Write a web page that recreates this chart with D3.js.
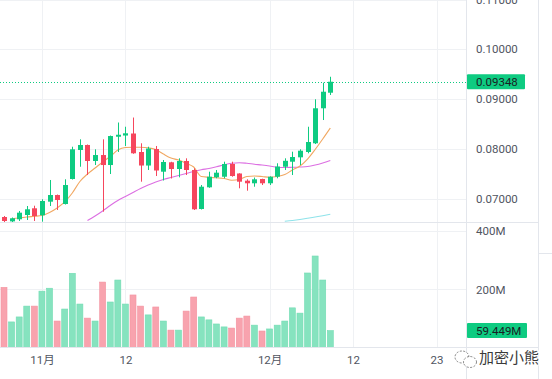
<!DOCTYPE html>
<html><head><meta charset="utf-8">
<script src="https://cdn.jsdelivr.net/npm/d3@7"></script>
<style>html,body{margin:0;padding:0;background:#fff;overflow:hidden}svg{display:block}</style>
</head><body><svg id="c" width="552" height="379"></svg>
<script>
const dates = ["2023-10-27","2023-10-28","2023-10-29","2023-10-30","2023-10-31","2023-11-01","2023-11-02","2023-11-03","2023-11-04","2023-11-05","2023-11-06","2023-11-07","2023-11-08","2023-11-09","2023-11-10","2023-11-11","2023-11-12","2023-11-13","2023-11-14","2023-11-15","2023-11-16","2023-11-17","2023-11-18","2023-11-19","2023-11-20","2023-11-21","2023-11-22","2023-11-23","2023-11-24","2023-11-25","2023-11-26","2023-11-27","2023-11-28","2023-11-29","2023-11-30","2023-12-01","2023-12-02","2023-12-03","2023-12-04","2023-12-05","2023-12-06","2023-12-07","2023-12-08","2023-12-09"];
const open  = [0.06628,0.06540,0.06582,0.06668,0.06803,0.06662,0.06936,0.07070,0.06889,0.07392,0.07975,0.08076,0.07754,0.07874,0.07673,0.08242,0.08266,0.08307,0.07935,0.07663,0.07995,0.07539,0.07728,0.07593,0.07754,0.07573,0.06789,0.07225,0.07426,0.07438,0.07694,0.07503,0.07358,0.07306,0.07392,0.07306,0.07438,0.07639,0.07740,0.07828,0.07935,0.08110,0.08814,0.09127];
const high  = [0.06648,0.06618,0.06749,0.06849,0.06855,0.06984,0.07372,0.07080,0.07386,0.08041,0.08190,0.08086,0.07989,0.08190,0.08266,0.08528,0.08443,0.08628,0.08110,0.08041,0.08056,0.07774,0.07738,0.07808,0.07808,0.07607,0.07271,0.07539,0.07573,0.07740,0.07740,0.07507,0.07386,0.07422,0.07398,0.07446,0.07708,0.07808,0.07941,0.07989,0.08443,0.08995,0.09328,0.09448];
const low   = [0.06527,0.06518,0.06548,0.06568,0.06548,0.06534,0.06849,0.06769,0.06879,0.07382,0.07639,0.07472,0.07673,0.06735,0.07492,0.07935,0.08055,0.07899,0.07338,0.07573,0.07452,0.07362,0.07402,0.07426,0.07472,0.06769,0.06779,0.07215,0.07406,0.07406,0.07438,0.07205,0.07157,0.07237,0.07271,0.07271,0.07406,0.07573,0.07472,0.07673,0.07909,0.08095,0.08578,0.09081];
const close = [0.06548,0.06602,0.06715,0.06783,0.06648,0.06950,0.07070,0.06970,0.07271,0.07989,0.08076,0.07754,0.07874,0.07673,0.08256,0.08282,0.08311,0.07909,0.07663,0.08005,0.07563,0.07734,0.07593,0.07754,0.07573,0.06783,0.07237,0.07438,0.07519,0.07694,0.07452,0.07338,0.07306,0.07386,0.07306,0.07438,0.07643,0.07758,0.07834,0.07961,0.08136,0.08814,0.09147,0.09348];
const volumeM = [207,89,106,143,143,194,204,92,133,255,150,102,92,225,157,232,150,181,143,113,140,92,61,61,126,174,106,96,82,72,68,102,109,78,58,65,78,92,137,119,256,314,232,59.449];
const maShort = [null,0.06594,0.06608,0.06628,0.06642,0.06658,0.06719,0.06809,0.06930,0.07111,0.07342,0.07492,0.07613,0.07734,0.07844,0.07975,0.08025,0.08029,0.08029,0.08019,0.07985,0.07894,0.07814,0.07774,0.07708,0.07633,0.07442,0.07426,0.07416,0.07402,0.07366,0.07382,0.07442,0.07452,0.07442,0.07426,0.07442,0.07482,0.07573,0.07653,0.07794,0.07985,0.08196,0.08417];
const maMid = [null,null,null,null,null,null,null,null,null,null,null,0.06558,0.06648,0.06749,0.06859,0.06960,0.07040,0.07121,0.07201,0.07271,0.07332,0.07382,0.07422,0.07462,0.07503,0.07543,0.07577,0.07603,0.07637,0.07677,0.07708,0.07720,0.07708,0.07689,0.07673,0.07653,0.07627,0.07623,0.07627,0.07633,0.07643,0.07673,0.07714,0.07764];
const maLong = [null,null,null,null,null,null,null,null,null,null,null,null,null,null,null,null,null,null,null,null,null,null,null,null,null,null,null,null,null,null,null,null,null,null,null,null,null,0.06542,0.06558,0.06578,0.06602,0.06628,0.06654,0.06682];
const priceTicks = [0.07,0.08,0.09,0.10,0.11];
const volumeTicks = [200,400];
const timeTicks = ["2023-11-01","2023-11-12","2023-12-01","2023-12-12","2023-12-23"];
const timeTickLabels = ["11月","12","12月","12","23"];
const lastPriceLabel = "0.09348";
const lastVolumeLabel = "59.449M";

const GREEN="#0ecb81", RED="#f6465d";
const VG="#86e3bf", VR="#f8a3ae";
const svg=d3.select("#c");
const W=552,H=379, plotR=466, paneSep=222, volBottom=347;
const font="Roboto, 'Noto Sans CJK SC', sans-serif";
const parse=d3.utcParse("%Y-%m-%d");
const D=dates.map(parse);
const day=864e5;
const t0=D[0].getTime();
const x=d3.scaleUtc().domain([new Date(t0-0.527*day),new Date(t0+60.88*day)]).range([0,plotR]);
const y=d3.scaleLinear().domain([0.07,0.10]).range([198.5,49.3]);
const yv=d3.scaleLinear().domain([0,400]).range([348,230.8]);

// clip paths
const defs=svg.append("defs");
defs.append("clipPath").attr("id","cp").append("rect").attr("x",0).attr("y",0).attr("width",plotR).attr("height",paneSep);
defs.append("clipPath").attr("id","cv").append("rect").attr("x",0).attr("y",paneSep+1).attr("width",plotR).attr("height",volBottom-paneSep-1);

const grid="#eff1f4";
// vertical grid
svg.append("g").selectAll("line").data(timeTicks.map(parse)).join("line")
  .attr("x1",d=>Math.round(x(d))+0.5).attr("x2",d=>Math.round(x(d))+0.5)
  .attr("y1",0).attr("y2",volBottom).attr("stroke",grid);
// price grid
svg.append("g").attr("clip-path","url(#cp)").selectAll("line").data(priceTicks).join("line")
  .attr("x1",0).attr("x2",plotR).attr("y1",d=>Math.round(y(d))+0.5).attr("y2",d=>Math.round(y(d))+0.5).attr("stroke",grid);
// volume grid
svg.append("g").selectAll("line").data(volumeTicks).join("line")
  .attr("x1",0).attr("x2",plotR).attr("y1",d=>Math.round(yv(d))+0.5).attr("y2",d=>Math.round(yv(d))+0.5).attr("stroke",grid);

// frame lines
const frame="#e3e6ec";
svg.append("line").attr("x1",0).attr("x2",538).attr("y1",paneSep+0.5).attr("y2",paneSep+0.5).attr("stroke",frame);
svg.append("line").attr("x1",0).attr("x2",538).attr("y1",volBottom+0.5).attr("y2",volBottom+0.5).attr("stroke",frame);
svg.append("line").attr("x1",plotR+0.5).attr("x2",plotR+0.5).attr("y1",0).attr("y2",H).attr("stroke",frame);
svg.append("line").attr("x1",538.5).attr("x2",538.5).attr("y1",0).attr("y2",H).attr("stroke",frame);
svg.append("line").attr("x1",538).attr("x2",W).attr("y1",253.5).attr("y2",253.5).attr("stroke",frame);

// volume bars
const gv=svg.append("g").attr("clip-path","url(#cv)");
gv.selectAll("rect").data(D).join("rect")
  .attr("x",d=>x(d)-3).attr("width",6)
  .attr("y",(d,i)=>yv(volumeM[i])).attr("height",(d,i)=>yv(0)-yv(volumeM[i]))
  .attr("fill",(d,i)=>close[i]>=open[i]?VG:VR)
  .attr("stroke",(d,i)=>close[i]>=open[i]?"#72dcb3":"#f493a0").attr("stroke-width",0.6);

// price pane
const gp=svg.append("g").attr("clip-path","url(#cp)");
// MA lines
function maLine(arr,color){
  const line=d3.line().defined(d=>d[1]!=null).x(d=>x(d[0])).y(d=>y(d[1])).curve(d3.curveMonotoneX);
  gp.append("path").datum(D.map((d,i)=>[d,arr[i]])).attr("d",line).attr("fill","none").attr("stroke",color).attr("stroke-width",1.1);
}
maLine(maLong,"#8fe3ea");
maLine(maMid,"#dc6fe2");
maLine(maShort,"#f1a862");

// last price dotted line
gp.append("line").attr("x1",0).attr("x2",plotR).attr("y1",Math.round(y(close[close.length-1]))+0.5).attr("y2",Math.round(y(close[close.length-1]))+0.5)
  .attr("stroke",GREEN).attr("stroke-dasharray","1,2");

// candles
const gc=gp.append("g");
D.forEach((d,i)=>{
  const c=close[i]>=open[i]?GREEN:RED;
  const cx=Math.round(x(d));
  gc.append("line").attr("x1",cx+0.5).attr("x2",cx+0.5).attr("y1",y(high[i])).attr("y2",y(low[i])).attr("stroke",c).attr("stroke-width",1);
  const top=y(Math.max(open[i],close[i])), bot=y(Math.min(open[i],close[i]));
  gc.append("rect").attr("x",cx-2).attr("width",5).attr("y",top).attr("height",Math.max(1,bot-top)).attr("fill",c);
});

// right axis labels
const txt="#50555f";
svg.append("g").selectAll("text").data(priceTicks).join("text")
  .attr("x",476).attr("y",d=>y(d)).attr("dy","0.36em").text(d=>d3.format(".5f")(d))
  .attr("font-family",font).attr("font-size",11.5).attr("fill",txt);
svg.append("g").selectAll("text").data(volumeTicks).join("text")
  .attr("x",476).attr("y",d=>yv(d)).attr("dy","0.36em").text(d=>d+"M")
  .attr("font-family",font).attr("font-size",11.5).attr("fill",txt);

// badges
const lp=y(close[close.length-1]);
svg.append("rect").attr("x",467).attr("y",lp-7.5).attr("width",58).attr("height",15).attr("fill",GREEN).attr("rx",1);
svg.append("text").attr("x",476).attr("y",lp).attr("dy","0.36em").text(lastPriceLabel).attr("font-family",font).attr("font-size",11.5).attr("fill","#1a1d24");
const lv=yv(volumeM[volumeM.length-1]);
svg.append("rect").attr("x",467).attr("y",lv-7.5).attr("width",60).attr("height",15).attr("fill",GREEN).attr("rx",1);
svg.append("text").attr("x",476).attr("y",lv).attr("dy","0.36em").text(lastVolumeLabel).attr("font-family",font).attr("font-size",11.5).attr("fill","#1a1d24");

// time axis
const ax=d3.axisBottom(x).tickValues(timeTicks.map(parse)).tickSize(0).tickFormat((d,i)=>timeTickLabels[i]);
const gax=svg.append("g").attr("transform",`translate(0,${volBottom})`).call(ax);
gax.select(".domain").remove();
gax.selectAll("text").attr("font-family",font).attr("font-size",11.5).attr("fill",txt).attr("dy",0).attr("y",17);

// watermark
const wm=svg.append("g").attr("transform","translate(0,0)");
wm.append("ellipse").attr("cx",462).attr("cy",357).attr("rx",7).attr("ry",6).attr("fill","#fff").attr("stroke","#666").attr("stroke-width",0.8).attr("stroke-dasharray","2,1.5");
wm.append("ellipse").attr("cx",470).attr("cy",362).attr("rx",6.5).attr("ry",5.5).attr("fill","#fff").attr("stroke","#666").attr("stroke-width",0.8).attr("stroke-dasharray","2,1.5");
wm.append("text").attr("x",509).attr("y",358).attr("dy","0.36em").attr("text-anchor","middle").text("加密小熊")
  .attr("font-family","'Noto Sans CJK SC', sans-serif").attr("font-size",15).attr("fill","#3a3a3a")
  .attr("stroke","#fff").attr("stroke-width",2.5).attr("paint-order","stroke");
</script></body></html>
